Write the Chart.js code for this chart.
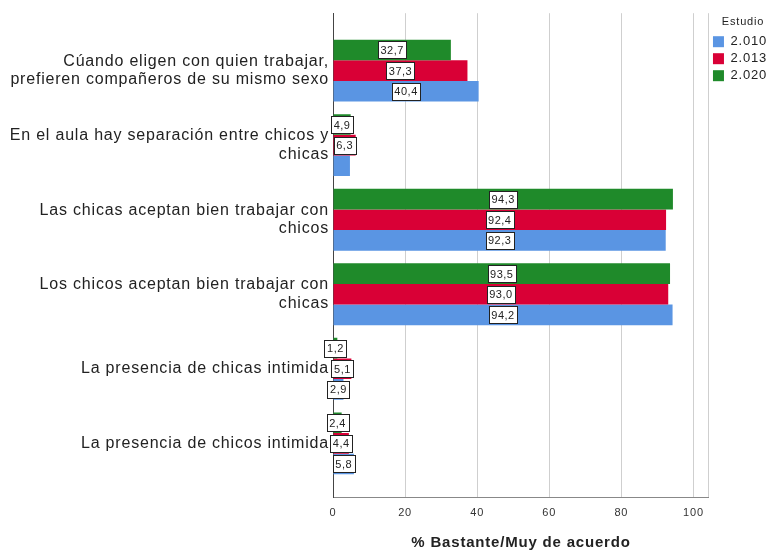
<!DOCTYPE html>
<html lang="es">
<head>
    <meta charset="UTF-8">
    <title>Estudio</title>
    <script src="https://cdn.jsdelivr.net/npm/chart.js"></script>
    <style>
        body { margin: 0; background: #fff; }
        #wrap { width: 767px; height: 553px; }
    </style>
</head>
<body>
    <div id="wrap"><canvas id="chart" width="767" height="553"></canvas></div>

    <script>
        // Categorias (de arriba a abajo)
        const categories = [
            ['Cúando eligen con quien trabajar,', 'prefieren compañeros de su mismo sexo'],
            ['En el aula hay separación entre chicos y', 'chicas'],
            ['Las chicas aceptan bien trabajar con', 'chicos'],
            ['Los chicos aceptan bien trabajar con', 'chicas'],
            'La presencia de chicas intimida',
            'La presencia de chicos intimida'
        ];

        // Valores por año de estudio
        const y2010 = [40.4, 4.7, 92.3, 94.2, 2.9, 5.8];
        const y2013 = [37.3, 6.3, 92.4, 93.0, 5.1, 4.4];
        const y2020 = [32.7, 4.9, 94.3, 93.5, 1.2, 2.4];

        const xTicks = [0, 20, 40, 60, 80, 100];

        // la etiqueta de 2.010 en la segunda fila no aparece en el original
        const hiddenLabels = [['2.010', 1]];

        const FONT = '"Liberation Sans", Arial, sans-serif';

        function toPoints(arr) {
            return arr.map((v, i) => ({ x: v, y: i }));
        }

        // el original tiene el texto algo espaciado
        const spacing = {
            id: 'spacing',
            beforeLayout(chart) { chart.ctx.letterSpacing = '0.8px'; },
            beforeDraw(chart) { chart.ctx.letterSpacing = '0.8px'; }
        };

        const labelBoxes = {
            id: 'labelBoxes',
            afterDatasetsDraw(chart) {
                const ctx = chart.ctx;
                ctx.save();
                ctx.letterSpacing = '0.5px';
                ctx.font = '11px ' + FONT;
                ctx.textAlign = 'center';
                ctx.textBaseline = 'middle';
                chart.data.datasets.forEach((ds, di) => {
                    const meta = chart.getDatasetMeta(di);
                    meta.data.forEach((el, i) => {
                        if (hiddenLabels.some(h => h[0] === ds.label && h[1] === i)) return;
                        const txt = ds.data[i].x.toFixed(1).replace('.', ',');
                        const cx = (el.x + el.base) / 2;
                        const cy = el.y;
                        const w = Math.round(ctx.measureText(txt).width + 5);
                        const h = 17;
                        const bx = Math.round(cx - w / 2) + 0.5;
                        const by = Math.round(cy - h / 2) + 0.5;
                        ctx.fillStyle = '#fff';
                        ctx.fillRect(bx, by, w, h);
                        ctx.strokeStyle = '#222';
                        ctx.lineWidth = 1;
                        ctx.strokeRect(bx, by, w, h);
                        ctx.fillStyle = '#222';
                        ctx.fillText(txt, cx, cy + 1);
                    });
                });
                ctx.restore();
            }
        };

        const ctx = document.getElementById('chart').getContext('2d');
        new Chart(ctx, {
            type: 'bar',
            data: {
                datasets: [
                    { label: '2.020', data: toPoints(y2020), backgroundColor: '#1f8a2a' },
                    { label: '2.013', data: toPoints(y2013), backgroundColor: '#d90036' },
                    { label: '2.010', data: toPoints(y2010), backgroundColor: '#5a95e3' }
                ]
            },
            options: {
                indexAxis: 'y',
                responsive: false,
                animation: false,
                categoryPercentage: 0.83,
                barPercentage: 1,
                layout: { padding: { top: 10, right: -10, left: 0, bottom: 0 } },
                plugins: {
                    tooltip: { enabled: false },
                    legend: {
                        position: 'right',
                        align: 'start',
                        reverse: true,
                        title: {
                            display: true,
                            text: 'Estudio',
                            color: '#222',
                            font: { family: FONT, size: 11 },
                            padding: { top: 6, bottom: 2 }
                        },
                        labels: {
                            boxWidth: 11,
                            boxHeight: 11,
                            padding: 4,
                            color: '#222',
                            font: { family: FONT, size: 13 }
                        }
                    }
                },
                scales: {
                    x: {
                        type: 'linear',
                        min: 0,
                        max: 104.3,
                        afterBuildTicks(scale) {
                            scale.ticks = xTicks.concat([104.3]).map(v => ({ value: v }));
                        },
                        afterFit(scale) { scale.height = 56; },
                        grid: { color: '#cfcfcf', drawTicks: false },
                        border: { color: '#888' },
                        ticks: {
                            padding: 9,
                            color: '#333',
                            font: { family: FONT, size: 11 },
                            callback: v => (xTicks.includes(v) ? v : '')
                        },
                        title: {
                            display: true,
                            text: '% Bastante/Muy de acuerdo',
                            color: '#222',
                            font: { family: FONT, size: 15, weight: 'bold' },
                            padding: { top: 0, bottom: 1 }
                        }
                    },
                    y: {
                        type: 'linear',
                        offset: false,
                        reverse: true,
                        min: -0.77,
                        max: 5.72,
                        afterBuildTicks(scale) {
                            scale.ticks = categories.map((c, i) => ({ value: i }));
                        },
                        afterFit(scale) { scale.width = 333; },
                        grid: { display: false, drawTicks: false, tickLength: 0 },
                        border: { color: '#444' },
                        ticks: {
                            padding: 4,
                            color: '#222',
                            font: { family: FONT, size: 16, lineHeight: 1.15 },
                            callback: v => categories[v]
                        }
                    }
                }
            },
            plugins: [spacing, labelBoxes]
        });
    </script>
</body>
</html>
